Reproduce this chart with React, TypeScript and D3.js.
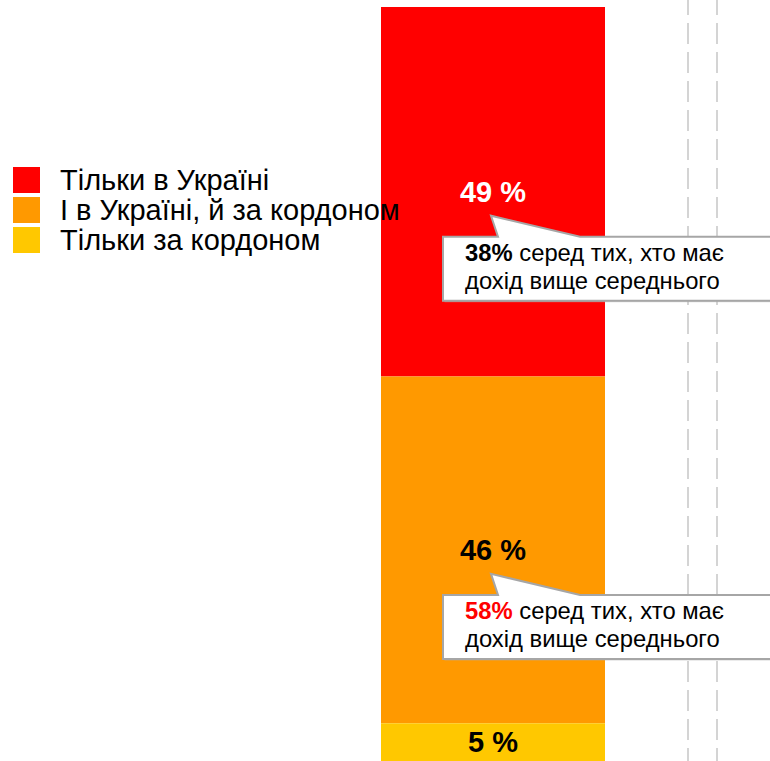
import React from "react";
import * as d3 from "d3";

const categories = ["Тільки в Україні", "І в Україні, й за кордоном", "Тільки за кордоном"];
const values = [49, 46, 5];
const colors = ["#FF0000", "#FF9900", "#FFC800"];
const labelColors = ["#FFFFFF", "#000000", "#000000"];
const calloutHighlights = ["38%", "58%", null];
const calloutHighlightColors = ["#000000", "#FF0000", null];
const calloutLine1 = " серед тих, хто має";
const calloutLine2 = "дохід вище середнього";

const W = 770;
const H = 761;

export default function App() {
  const y = d3.scaleLinear().domain([0, 100]).range([7, 761]);
  const x = d3.scaleBand().domain(["all"]).range([381, 605]).padding(0);
  const stacked = d3.stack<any>().keys(categories)([
    Object.fromEntries(categories.map((c, i) => [c, values[i]])),
  ]);
  const bx = x("all") as number;
  const bw = x.bandwidth();
  const cx = bx + bw / 2;
  const font = "'Liberation Sans', Arial, sans-serif";
  const dashX = [688, 717];

  return (
    <svg width={W} height={H} style={{ position: "absolute", left: 0, top: 0 }} fontFamily={font}>
      <rect width={W} height={H} fill="#fff" />
      {dashX.map((dx) => (
        <line key={dx} x1={dx} x2={dx} y1={0} y2={H} stroke="#d4d4d4" strokeWidth={2} strokeDasharray="21 8" strokeDashoffset={6} />
      ))}
      {stacked.map((s, i) => {
        const y0 = y(s[0][0]);
        const y1 = y(s[0][1]);
        return <rect key={i} x={bx} y={y0} width={bw} height={y1 - y0} fill={colors[i]} />;
      })}
      {stacked.map((s, i) => {
        const mid = (y(s[0][0]) + y(s[0][1])) / 2;
        return (
          <text key={"l" + i} x={cx} y={mid + 10} textAnchor="middle" fontSize={29} fontWeight="bold" fill={labelColors[i]}>
            {values[i]} %
          </text>
        );
      })}
      {stacked.map((s, i) => {
        if (!calloutHighlights[i]) return null;
        const mid = (y(s[0][0]) + y(s[0][1])) / 2;
        const tipY = mid + 24;
        const top = tipY + 21;
        const bottom = tipY + 85;
        const path = `M443,${top} L498,${top} L491,${tipY} L580,${top} L780,${top} L780,${bottom} L443,${bottom} Z`;
        return (
          <g key={"c" + i}>
            <path d={path} transform="translate(1.5,1.5)" fill="#b0b0b0" opacity={0.5} />
            <path d={path} fill="#fff" stroke="#a6a6a6" strokeWidth={2} />
            <text x={465} y={top + 24} fontSize={23.8} fill="#000">
              <tspan fontWeight="bold" fill={calloutHighlightColors[i] as string}>{calloutHighlights[i]}</tspan>
              <tspan>{calloutLine1}</tspan>
            </text>
            <text x={465} y={top + 52} fontSize={23.8} fill="#000">{calloutLine2}</text>
          </g>
        );
      })}
      {categories.map((c, i) => (
        <g key={"lg" + i}>
          <rect x={13} y={167 + i * 30} width={27} height={26} fill={colors[i]} />
          <text x={60} y={190 + i * 30} fontSize={29} fill="#000">{c}</text>
        </g>
      ))}
    </svg>
  );
}
